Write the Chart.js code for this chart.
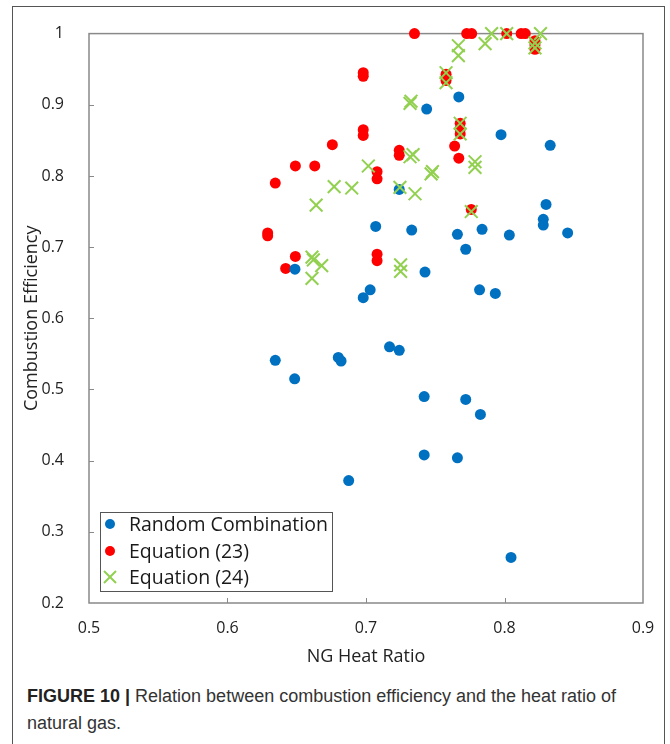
<!DOCTYPE html>
<html>
<head>
<meta charset="utf-8">
<script src="https://cdn.jsdelivr.net/npm/chart.js@4/dist/chart.umd.min.js"></script>
<style>
  html, body { margin: 0; padding: 0; background: #fff; }
  body { width: 670px; height: 744px; position: relative; overflow: hidden; }
  #frame {
    position: absolute; left: 12px; top: 6px; width: 653px; height: 760px;
    border: 1px solid #555; box-sizing: border-box;
  }
  #wrap { position: absolute; left: 13px; top: 7px; width: 652px; height: 665px; }
  #caption {
    position: absolute; left: 27px; top: 683px; width: 630px;
    font-family: "Liberation Sans", Arial, sans-serif; font-size: 18px;
    line-height: 27px; color: #333;
  }
  #caption b { color: #222; }
</style>
</head>
<body>
<div id="frame"></div>
<div id="wrap"><canvas id="scatter"></canvas></div>
<div id="caption"><b>FIGURE 10 |</b> Relation between combustion efficiency and the heat ratio of<br>natural gas.</div>
<script>
// Random Combination
var randomRatio = [0.6345, 0.6485, 0.6487, 0.680, 0.682, 0.6875, 0.698, 0.703, 0.707, 0.717, 0.724, 0.724,
                   0.733, 0.742, 0.742, 0.7426, 0.7438, 0.766, 0.766, 0.767, 0.772, 0.772, 0.782, 0.7838,
                   0.7826, 0.7934, 0.7975, 0.8035, 0.8047, 0.828, 0.828, 0.830, 0.833, 0.8456];
var randomEff   = [0.541, 0.515, 0.669, 0.545, 0.540, 0.372, 0.629, 0.640, 0.729, 0.560, 0.555, 0.781,
                   0.724, 0.490, 0.408, 0.665, 0.894, 0.718, 0.404, 0.911, 0.697, 0.486, 0.640, 0.725,
                   0.465, 0.635, 0.858, 0.717, 0.264, 0.739, 0.731, 0.760, 0.843, 0.720];

// Equation (23)
var eq23Ratio = [0.629, 0.629, 0.6345, 0.642, 0.649, 0.649, 0.663, 0.6757, 0.698, 0.698, 0.698, 0.698,
                 0.708, 0.708, 0.708, 0.708, 0.724, 0.724, 0.735, 0.7578, 0.7578, 0.764, 0.767, 0.768,
                 0.768, 0.768, 0.7727, 0.7763, 0.776, 0.8016, 0.812, 0.815, 0.822, 0.822, 0.822];
var eq23Eff   = [0.720, 0.716, 0.790, 0.670, 0.687, 0.814, 0.814, 0.844, 0.945, 0.940, 0.865, 0.857,
                 0.806, 0.796, 0.690, 0.681, 0.836, 0.829, 1.0, 0.943, 0.934, 0.842, 0.825, 0.874,
                 0.866, 0.859, 1.0, 1.0, 0.753, 1.0, 1.0, 1.0, 0.990, 0.984, 0.978];

// Equation (24)
var eq24Ratio = [0.661, 0.662, 0.668, 0.661, 0.664, 0.677, 0.6897, 0.7017, 0.7245, 0.725, 0.725, 0.7318,
                 0.7325, 0.7318, 0.734, 0.7354, 0.747, 0.748, 0.7578, 0.7578, 0.7667, 0.7667, 0.768, 0.768,
                 0.776, 0.7787, 0.7787, 0.786, 0.7907, 0.8016, 0.822, 0.822, 0.826];
var eq24Eff   = [0.686, 0.682, 0.674, 0.656, 0.759, 0.785, 0.783, 0.814, 0.784, 0.675, 0.666, 0.902,
                 0.905, 0.827, 0.830, 0.775, 0.803, 0.806, 0.945, 0.931, 0.983, 0.969, 0.874, 0.859,
                 0.750, 0.820, 0.812, 0.986, 1.0, 1.0, 0.987, 0.980, 1.0];

var xTicks = [0.5, 0.6, 0.7, 0.8, 0.9];
var yTicks = [0.2, 0.3, 0.4, 0.5, 0.6, 0.7, 0.8, 0.9, 1];

function pairs(xs, ys) {
  return xs.map(function(x, i) { return { x: x, y: ys[i] }; });
}

var axisFont = "'Open Sans', sans-serif";
var axisGrey = "#898989";

// plot border + inside tick marks
var frameBox = {
  id: "frameBox",
  beforeDatasetsDraw: function(chart) {
    var ctx = chart.ctx, a = chart.chartArea;
    ctx.save();
    ctx.strokeStyle = axisGrey;
    ctx.lineWidth = 1.5;
    ctx.strokeRect(a.left, a.top, a.right - a.left, a.bottom - a.top);
    ctx.lineWidth = 1;
    ctx.beginPath();
    chart.scales.y.ticks.forEach(function(t) {
      if (t.value <= 0.2 || t.value >= 1) return;
      var py = Math.round(chart.scales.y.getPixelForValue(t.value)) + 0.5;
      ctx.moveTo(a.left, py); ctx.lineTo(a.left + 5, py);
    });
    chart.scales.x.ticks.forEach(function(t) {
      if (t.value <= 0.5 || t.value >= 0.9) return;
      var px = Math.round(chart.scales.x.getPixelForValue(t.value)) + 0.5;
      ctx.moveTo(px, a.bottom); ctx.lineTo(px, a.bottom - 5);
    });
    ctx.stroke();
    ctx.restore();
  }
};

// legend box in the lower left of the plot
var insideLegend = {
  id: "insideLegend",
  afterDraw: function(chart) {
    var ctx = chart.ctx, a = chart.chartArea;
    var bx = a.left + 11, by = a.bottom - 91;
    ctx.save();
    ctx.fillStyle = "#fff";
    ctx.fillRect(bx, by, 232, 79);
    ctx.strokeStyle = "#555";
    ctx.lineWidth = 1;
    ctx.strokeRect(bx + 0.5, by + 0.5, 232, 79);
    var rows = [12, 39, 65];
    ctx.font = "19.5px " + axisFont;
    ctx.textBaseline = "middle";
    chart.data.datasets.forEach(function(ds, i) {
      var cy = by + rows[i];
      ctx.fillStyle = ds.backgroundColor;
      ctx.strokeStyle = ds.borderColor;
      ctx.lineWidth = ds.borderWidth;
      Chart.helpers.drawPoint(ctx, {
        pointStyle: ds.pointStyle,
        radius: ds.pointStyle === "crossRot" ? 8.5 : 5,
        borderWidth: ds.borderWidth,
        rotation: 0
      }, bx + 10, cy);
      ctx.fillStyle = "#1a1a1a";
      ctx.fillText(ds.label, bx + 29, cy + 1);
    });
    ctx.restore();
  }
};

var ctx = document.getElementById("scatter").getContext("2d");
var myChart = new Chart(ctx, {
  type: "scatter",
  data: {
    datasets: [
      {
        label: "Random Combination",
        data: pairs(randomRatio, randomEff),
        pointStyle: "circle",
        backgroundColor: "#0070c0",
        borderColor: "#0070c0",
        borderWidth: 0,
        pointRadius: 5.5,
        clip: false,
        order: 1
      },
      {
        label: "Equation (23)",
        data: pairs(eq23Ratio, eq23Eff),
        pointStyle: "circle",
        backgroundColor: "#ff0000",
        borderColor: "#ff0000",
        borderWidth: 0,
        pointRadius: 5.5,
        clip: false,
        order: 2
      },
      {
        label: "Equation (24)",
        data: pairs(eq24Ratio, eq24Eff),
        pointStyle: "crossRot",
        backgroundColor: "#92d050",
        borderColor: "#92d050",
        borderWidth: 2,
        pointRadius: 9,
        clip: false,
        order: 0
      }
    ]
  },
  options: {
    responsive: true,
    maintainAspectRatio: false,
    animation: false,
    layout: { padding: { top: 24, right: 22, left: 0, bottom: 0 } },
    plugins: {
      legend: { display: false },
      tooltip: { enabled: false }
    },
    scales: {
      x: {
        type: "linear",
        min: 0.5,
        max: 0.9,
        afterBuildTicks: function(scale) {
          scale.ticks = xTicks.map(function(v) { return { value: v }; });
        },
        grid: { display: false },
        border: { display: false },
        ticks: {
          padding: 8,
          color: "#222",
          font: { family: axisFont, size: 16 },
          callback: function(v) { return String(+v.toFixed(1)); }
        },
        title: {
          display: true,
          text: "NG Heat Ratio",
          color: "#222",
          font: { family: axisFont, size: 18 },
          padding: { top: 0, bottom: 4 }
        },
        afterFit: function(scale) { scale.height = 69; }
      },
      y: {
        type: "linear",
        min: 0.2,
        max: 1,
        afterBuildTicks: function(scale) {
          scale.ticks = yTicks.map(function(v) { return { value: v }; });
        },
        grid: { display: false },
        border: { display: false },
        ticks: {
          padding: 17,
          color: "#222",
          font: { family: axisFont, size: 16 },
          callback: function(v) { return String(+v.toFixed(1)); }
        },
        title: {
          display: true,
          text: "Combustion Efficiency",
          color: "#222",
          font: { family: axisFont, size: 18 },
          padding: { top: 8, bottom: 0 }
        },
        afterFit: function(scale) { scale.width = 76; }
      }
    }
  },
  plugins: [frameBox, insideLegend]
});
</script>
</body>
</html>
